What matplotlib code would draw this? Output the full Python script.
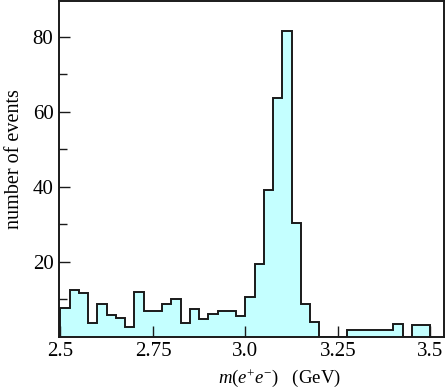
import matplotlib
matplotlib.use("Agg")
import matplotlib.pyplot as plt
import numpy as np

plt.rcParams['font.family'] = ['Liberation Serif', 'DejaVu Serif']
plt.rcParams['mathtext.fontset'] = 'custom'
plt.rcParams['mathtext.rm'] = 'Liberation Serif'
plt.rcParams['mathtext.it'] = 'Liberation Serif:italic'

# Data: event counts per 0.025 GeV bin starting at 2.5 GeV
bin_start = 2.5
bin_width = 0.025
counts = [7.8, 12.6, 11.6, 3.8, 8.8, 5.7, 4.9, 2.5, 12.0, 6.8,
          6.8, 8.8, 10.0, 3.6, 7.4, 4.7, 6.1, 6.8, 6.8, 5.6,
          10.7, 19.4, 39.2, 63.8, 81.6, 30.3, 8.7, 3.9, 0, 0,
          0, 1.8, 1.8, 1.8, 1.8, 1.8, 3.5, 0, 3.2, 3.2]
xticks = [2.5, 2.75, 3.0, 3.25, 3.5]
xticklabels = ["2.5", "2.75", "3.0", "3.25", "3.5"]
yticks = [20, 40, 60, 80]

edges = bin_start + bin_width * np.arange(len(counts) + 1)

fig = plt.figure(figsize=(4.47, 3.88), dpi=100)
ax = fig.add_axes([0.132, 0.132, 0.861, 0.865])

ax.stairs(counts, edges, fill=True, color='#c4ffff', baseline=0)
ax.stairs(counts, edges, fill=False, color='#1a1a1a', linewidth=1.4, baseline=0)

ax.set_xlim(2.496, 3.5365)
ax.set_ylim(0, 89.5)
ax.set_xticks(xticks)
ax.set_xticklabels(xticklabels)
ax.set_yticks(yticks)
ax.set_yticks([10, 30, 50, 70], minor=True)
ax.tick_params(axis='both', which='both', direction='in', labelsize=15,
               width=1.0, color='#1a1a1a')
ax.tick_params(axis='both', which='major', length=8, pad=4)
ax.tick_params(axis='y', which='minor', length=6)
for s in ax.spines.values():
    s.set_linewidth(1.4)
    s.set_color('#1a1a1a')

ax.set_ylabel("number of events", fontsize=14.5)
ax.yaxis.set_label_coords(-0.09, 0.53)
ax.set_xlabel(r"$m(e^{+}e^{-})$   (GeV)", fontsize=13.5)
ax.xaxis.set_label_coords(0.574, -0.092)

fig.savefig("out.png", dpi=100)
